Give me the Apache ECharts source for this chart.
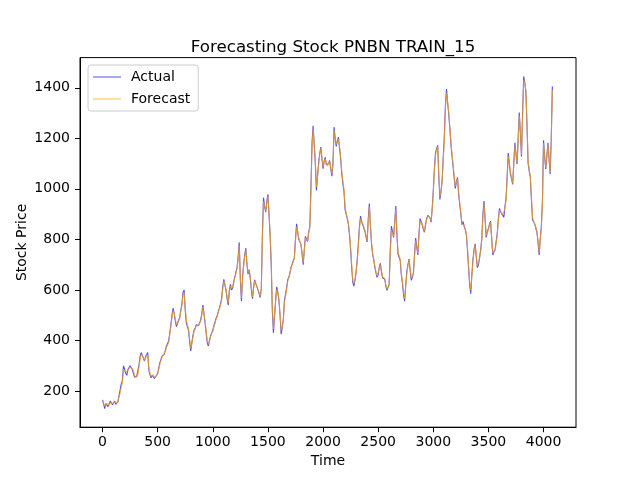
<!DOCTYPE html>
<html>
<head>
<meta charset="utf-8">
<script src="https://cdn.jsdelivr.net/npm/echarts@6/dist/echarts.min.js"></script>
<style>
  html, body { margin: 0; padding: 0; background: #fff; }
  #main { width: 640px; height: 480px; }
</style>
</head>
<body>
<div id="main"></div>
<script>
// time step between samples (read every 10 time units)
var step = 10;

var actual = [
  165,148,130,150,155,138,140,160,162,145,150,160,147,152,158,182,205,228,240,300,
  295,270,262,285,288,300,296,285,278,255,248,258,265,300,335,352,348,330,318,335,
  342,352,282,265,252,262,265,250,256,262,270,290,312,325,338,345,346,362,378,385,
  398,430,462,500,528,505,478,455,462,480,490,520,545,590,600,520,470,455,440,395,
  358,390,420,440,448,462,468,458,452,480,505,540,538,470,430,390,378,400,418,430,
  440,458,472,488,498,515,528,545,565,610,642,620,598,565,540,595,622,600,608,632,
  652,670,688,730,788,640,555,650,702,740,765,700,662,680,645,600,565,610,640,625,
  618,600,585,570,605,820,965,930,908,950,978,900,815,700,520,430,432,560,612,590,
  558,500,425,450,485,560,582,610,640,650,668,690,702,715,728,800,862,830,800,790,
  778,740,700,760,812,800,792,830,850,1000,1182,1250,1245,1100,995,1050,1102,1140,1165,1120,
  1080,1110,1125,1095,1088,1100,1112,1080,1050,1100,1245,1200,1168,1190,1205,1160,1118,1060,1020,990,
  918,900,882,860,818,760,688,630,615,640,672,720,782,850,892,870,858,845,832,810,
  790,880,942,850,780,740,718,690,668,650,660,690,705,670,648,655,642,615,598,605,
  622,760,852,830,808,870,932,820,742,730,718,660,628,580,555,620,672,700,722,680,
  638,650,668,740,805,770,738,820,882,870,858,840,828,860,882,895,902,885,868,920,
  992,1080,1142,1160,1172,1050,958,990,1032,1120,1205,1330,1395,1340,1298,1240,1178,1130,1088,1040,
  1002,1030,1045,980,938,900,858,870,852,840,818,760,688,620,585,660,722,760,782,730,
  688,700,728,760,802,900,952,880,808,830,842,860,872,800,738,750,758,790,822,880,
  922,910,902,895,888,930,962,1050,1142,1100,1058,1040,1018,1100,1182,1140,1098,1200,1302,1220,
  1128,1300,1445,1420,1382,1250,1102,1070,1048,960,878,870,862,845,828,790,738,800,852,950,
  1192,1130,1078,1130,1182,1120,1058,1200,1405
];

var forecast = [
  160,152,140,145,150,145,142,155,158,150,152,156,150,151,155,175,192,215,232,285,
  288,275,268,280,285,295,294,288,280,262,252,256,262,292,325,345,345,332,320,332,
  338,345,292,272,258,260,264,254,256,260,268,285,305,320,333,342,345,358,372,382,
  392,425,455,492,518,508,485,462,464,478,488,515,538,580,592,528,480,462,446,405,
  368,388,414,436,445,458,465,458,453,476,500,532,534,478,438,398,385,398,414,428,
  436,455,468,484,495,512,524,540,560,602,635,622,602,570,548,590,615,605,608,628,
  648,665,684,722,775,650,568,642,695,735,758,705,668,678,648,608,572,605,635,626,
  620,602,588,575,602,805,950,932,912,945,970,905,825,710,535,445,445,555,602,592,
  562,505,438,452,482,552,575,605,635,648,665,688,698,712,725,795,850,832,805,792,
  780,745,708,755,805,802,795,825,845,985,1165,1238,1238,1110,1008,1048,1095,1135,1160,1125,
  1088,1105,1120,1098,1090,1098,1108,1085,1058,1095,1232,1205,1175,1185,1198,1165,1125,1070,1030,998,
  928,905,885,865,825,770,700,640,625,640,668,715,772,840,882,872,862,848,835,815,
  795,870,930,858,788,745,722,695,672,655,662,685,700,675,652,655,645,620,605,606,
  618,745,838,832,812,862,920,828,752,735,722,665,635,590,565,615,665,695,718,685,
  645,652,665,732,795,772,745,815,872,870,860,842,832,856,878,892,898,886,872,915,
  985,1070,1132,1155,1168,1062,970,988,1028,1110,1195,1318,1380,1345,1305,1245,1185,1138,1095,1048,
  1010,1028,1040,985,945,905,865,868,852,842,822,768,698,630,598,655,715,755,778,735,
  695,702,725,755,798,890,940,885,815,828,840,858,868,805,745,750,755,785,818,872,
  915,910,905,896,890,925,955,1040,1130,1102,1065,1042,1022,1095,1172,1142,1105,1190,1290,1225,
  1135,1285,1430,1422,1390,1262,1112,1075,1052,968,888,872,865,848,832,795,748,798,845,940,
  1180,1132,1085,1128,1175,1122,1065,1190,1390
];

var xTicks = [0, 500, 1000, 1500, 2000, 2500, 3000, 3500, 4000];
var yTicks = [200, 400, 600, 800, 1000, 1200, 1400];

var toPairs = function(values){
	var out = [];
	for (var i = 0; i < values.length; i++) {
		out.push([i * step, values[i]]);
	}
	return out;
};

var plain = function(v){ return String(v); };

var chart = echarts.init(document.getElementById('main'));
var font = 'DejaVu Sans';
var option = {
	animation: false,
	backgroundColor: '#fff',
	title: {
		text: 'Forecasting Stock PNBN TRAIN_15',
		left: 328,
		textAlign: 'center',
		top: 34,
		textStyle: { fontFamily: font, fontSize: 16.7, fontWeight: 'normal', color: '#000' }
	},
	legend: {
		orient: 'vertical',
		left: 88,
		top: 65,
		itemWidth: 28,
		itemHeight: 1,
		itemGap: 8,
		padding: [5, 8, 5, 5],
		icon: 'rect',
		backgroundColor: 'rgba(255,255,255,0.8)',
		borderColor: '#cccccc',
		borderWidth: 1,
		borderRadius: 3,
		textStyle: { fontFamily: font, fontSize: 14, color: '#000', padding: [0, 0, 0, 5] },
		data: ['Actual', 'Forecast']
	},
	grid: {
		left: 80, right: 64, top: 57.6, bottom: 52.8,
		show: true, borderColor: '#000', borderWidth: 1, backgroundColor: 'transparent'
	},
	xAxis: {
		type: 'value',
		min: -204.5,
		max: 4294.5,
		name: 'Time',
		nameLocation: 'middle',
		nameGap: 27,
		nameMoveOverlap: false,
		nameTextStyle: { fontFamily: font, fontSize: 14, color: '#000' },
		axisLine: { show: true, onZero: false, lineStyle: { color: '#000', width: 1 } },
		axisTick: { show: true, length: 5, customValues: xTicks, lineStyle: { color: '#000' } },
		axisLabel: { customValues: xTicks, formatter: plain, margin: 8, fontFamily: font, fontSize: 14, color: '#000' },
		splitLine: { show: false }
	},
	yAxis: {
		type: 'value',
		min: 56.5,
		max: 1519.5,
		name: 'Stock Price',
		nameLocation: 'middle',
		nameGap: 51,
		nameMoveOverlap: false,
		nameTextStyle: { fontFamily: font, fontSize: 14, color: '#000' },
		axisLine: { show: true, onZero: false, lineStyle: { color: '#000', width: 1 } },
		axisTick: { show: true, length: 5, customValues: yTicks, lineStyle: { color: '#000' } },
		axisLabel: { customValues: yTicks, formatter: plain, margin: 10, fontFamily: font, fontSize: 14, color: '#000' },
		splitLine: { show: false }
	},
	series: [
		{
			name: 'Actual',
			type: 'line',
			data: toPairs(actual),
			showSymbol: false,
			symbol: 'none',
			color: 'rgba(0,0,255,0.7)',
			lineStyle: { width: 1.1, color: 'rgba(0,0,255,0.7)' }
		},
		{
			name: 'Forecast',
			type: 'line',
			data: toPairs(forecast),
			showSymbol: false,
			symbol: 'none',
			color: 'rgba(255,165,0,0.75)',
			lineStyle: { width: 1.1, color: 'rgba(255,165,0,0.75)' }
		}
	]
};
chart.setOption(option);
</script>
</body>
</html>
